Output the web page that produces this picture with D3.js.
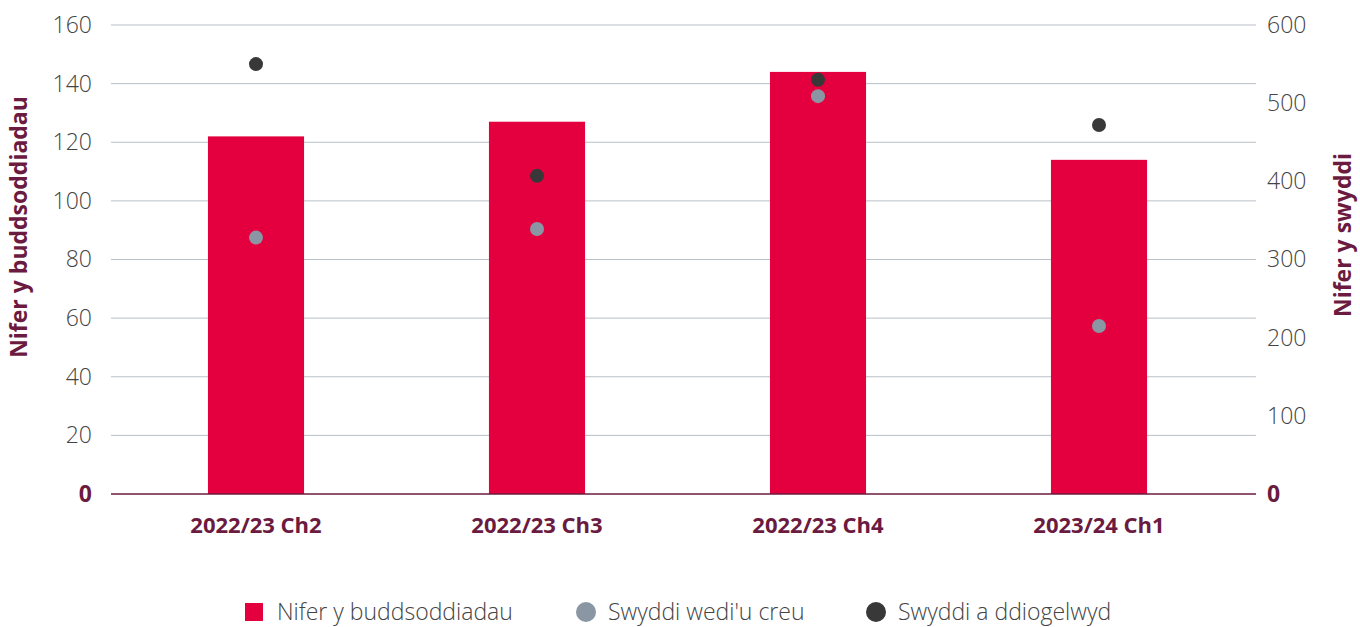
<!DOCTYPE html>
<html><head><meta charset="utf-8">
<script src="https://cdn.jsdelivr.net/npm/d3@7"></script>
<style>
body{margin:0;background:#fff;}
text{font-family:"Open Sans",Lato,sans-serif;}
</style></head>
<body><svg id="chart" width="1360" height="627"></svg>
<script>
const categories = ["2022/23 Ch2","2022/23 Ch3","2022/23 Ch4","2023/24 Ch1"];
const investments = [122,127,144,114];
const jobsCreated = [328,339,509,215];
const jobsSafeguarded = [550,407,530,472];
const leftTicks = [0,20,40,60,80,100,120,140,160];
const rightTicks = [0,100,200,300,400,500,600];
const seriesNames = ["Nifer y buddsoddiadau","Swyddi wedi'u creu","Swyddi a ddiogelwyd"];
const leftTitle = "Nifer y buddsoddiadau";
const rightTitle = "Nifer y swyddi";

const RED="#e4003e", GREY="#8a96a3", DARK="#383838", MAROON="#6b1a40", TXT="#444";
const FONT = "'Open Sans',Lato,sans-serif";
const svg = d3.select("#chart");
const plotTop=25, plotBottom=494, gridL=111, gridR=1256;

const x = d3.scaleBand().domain(categories).range([115.5,1239.5]).paddingInner(0.658).paddingOuter(0.329);
const yL = d3.scaleLinear().domain([0,160]).range([plotBottom,plotTop]);
const yR = d3.scaleLinear().domain([0,600]).range([plotBottom,plotTop]);

// gridlines
svg.append("g").selectAll("line").data(leftTicks.filter(d=>d>0)).join("line")
  .attr("x1",gridL).attr("x2",gridR).attr("y1",d=>yL(d)).attr("y2",d=>yL(d))
  .attr("stroke","#b9c0c8").attr("stroke-width",1);

// left ticks
const gl = svg.append("g").attr("transform",`translate(${gridL},0)`)
  .call(d3.axisLeft(yL).tickValues(leftTicks).tickSize(0).tickPadding(19).tickFormat(d3.format("d")));
gl.select(".domain").remove();
gl.selectAll("text").attr("font-size",23).attr("font-weight",d=>d===0?700:300)
  .attr("fill",d=>d===0?MAROON:TXT).attr("font-family",FONT);

// right ticks
const gr = svg.append("g").attr("transform",`translate(${gridR},0)`)
  .call(d3.axisRight(yR).tickValues(rightTicks).tickSize(0).tickPadding(11).tickFormat(d3.format("d")));
gr.select(".domain").remove();
gr.selectAll("text").attr("font-size",23).attr("font-weight",d=>d===0?700:300)
  .attr("fill",d=>d===0?MAROON:TXT).attr("font-family",FONT);

// bars
svg.append("g").selectAll("rect").data(investments).join("rect")
  .attr("x",(d,i)=>x(categories[i])).attr("width",x.bandwidth())
  .attr("y",d=>yL(d)).attr("height",d=>yL(0)-yL(d)).attr("fill",RED);

// baseline
svg.append("line").attr("x1",gridL).attr("x2",gridR).attr("y1",yL(0)).attr("y2",yL(0))
  .attr("stroke",MAROON).attr("stroke-width",1.3);

// dots
const cx = i => x(categories[i]) + x.bandwidth()/2;
svg.append("g").selectAll("circle").data(jobsCreated).join("circle")
  .attr("cx",(d,i)=>cx(i)).attr("cy",d=>yR(d)).attr("r",7).attr("fill",GREY);
svg.append("g").selectAll("circle").data(jobsSafeguarded).join("circle")
  .attr("cx",(d,i)=>cx(i)).attr("cy",d=>yR(d)).attr("r",7).attr("fill",DARK);

// x axis labels
const gx = svg.append("g").attr("transform",`translate(0,${plotBottom})`)
  .call(d3.axisBottom(x).tickSize(0).tickPadding(23));
gx.select(".domain").remove();
gx.selectAll("text").attr("font-size",22).attr("font-weight",700).attr("fill",MAROON).attr("font-family",FONT);

// axis titles
svg.append("text").attr("transform","translate(27,227) rotate(-90)").attr("text-anchor","middle")
  .attr("font-size",23).attr("font-weight",700).attr("fill",MAROON).attr("font-family",FONT).text(leftTitle);
svg.append("text").attr("transform","translate(1351,235) rotate(-90)").attr("text-anchor","middle")
  .attr("font-size",23).attr("font-weight",700).attr("fill",MAROON).attr("font-family",FONT).text(rightTitle);

// legend
const lg = svg.append("g");
const legendX = [245,576,866];
seriesNames.forEach((name,i)=>{
  const g = lg.append("g").attr("transform",`translate(${legendX[i]},612)`);
  if(i===0) g.append("rect").attr("x",0).attr("y",-9).attr("width",18).attr("height",18).attr("fill",RED);
  else g.append("circle").attr("cx",10).attr("cy",0).attr("r",10).attr("fill",i===1?GREY:DARK);
  g.append("text").attr("x",32).attr("y",0).attr("dy","0.36em")
    .attr("font-size",23).attr("font-weight",300).attr("fill",TXT).attr("font-family",FONT).text(name);
});
</script></body></html>
